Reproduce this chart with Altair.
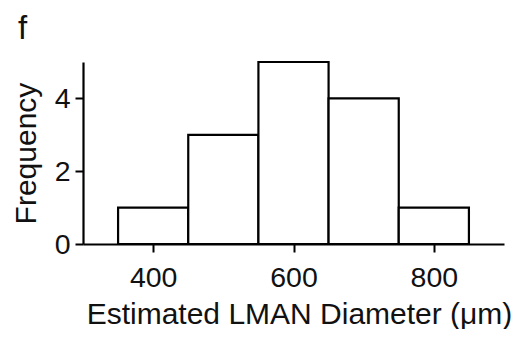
import altair as alt
import pandas as pd

bin_start = [350, 450, 550, 650, 750]
bin_end = [450, 550, 650, 750, 850]
counts = [1, 3, 5, 4, 1]
x_ticks = [400, 600, 800]
y_ticks = [0, 2, 4]
panel_label = ["f"]

df = pd.DataFrame({"start": bin_start, "end": bin_end, "count": counts})
lab = pd.DataFrame({"t": panel_label})

FONT = "Liberation Sans"

bars = alt.Chart(df).mark_rect(fill="white", stroke="black", strokeWidth=2.2).encode(
    x=alt.X("start:Q", scale=alt.Scale(domain=[300, 900], nice=False, zero=False),
            axis=alt.Axis(values=x_ticks, title="Estimated LMAN Diameter (\u03bcm)",
                          grid=False, domainColor="black", domainWidth=2.2,
                          tickColor="black", tickWidth=2, tickSize=8,
                          labelFont=FONT, labelFontSize=28.5, labelColor="#111",
                          labelBaseline="alphabetic", labelPadding=34,
                          titleFont=FONT, titleFontSize=30, titleFontWeight="normal",
                          titleColor="#111", titleBaseline="alphabetic",
                          titleX=216, titleY=79, titleAnchor="middle")),
    x2="end:Q",
    y=alt.Y("count:Q", scale=alt.Scale(domain=[0, 5], nice=False),
            axis=alt.Axis(values=y_ticks, title="Frequency", grid=False,
                          domainColor="black", domainWidth=2.2,
                          tickColor="black", tickWidth=2, tickSize=8,
                          labelFont=FONT, labelFontSize=28.5, labelColor="#111",
                          labelPadding=5,
                          titleFont=FONT, titleFontSize=30, titleFontWeight="normal",
                          titleColor="#111", titleBaseline="alphabetic",
                          titleX=-48, titleY=91, titleAngle=-90)),
    y2=alt.datum(0),
)

label = alt.Chart(lab).mark_text(font=FONT, fontSize=33, align="left",
                                 baseline="alphabetic", color="#111").encode(
    text="t:N", x=alt.value(-65), y=alt.value(-23.5))

chart = (bars + label).properties(
    width=421, height=182,
    autosize=alt.AutoSizeParams(type="none"),
    padding={"left": 75, "top": 54, "right": 12, "bottom": 85},
).configure_view(stroke=None)

chart.save("out.html", embed_options={"renderer": "svg", "actions": False})
